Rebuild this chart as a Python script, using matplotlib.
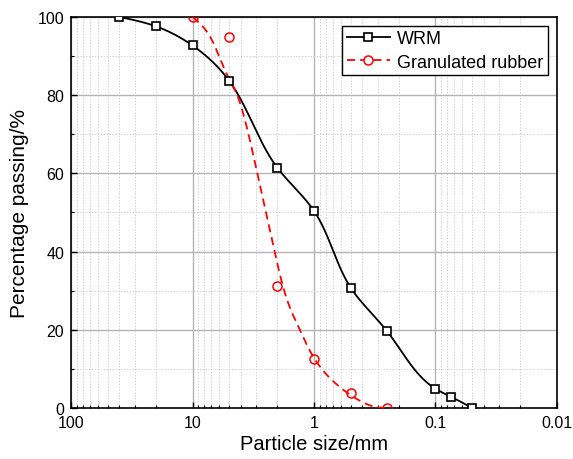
import numpy as np
import matplotlib
matplotlib.use('Agg')
import matplotlib.pyplot as plt
from matplotlib.ticker import LogLocator, FixedLocator, NullFormatter

plt.rcParams['font.family'] = ['Liberation Sans', 'DejaVu Sans']

# sieve data
wrm_size = [40, 20, 10, 5, 2, 1, 0.5, 0.25, 0.1, 0.075, 0.05]
wrm_pass = [100, 97.6, 92.7, 83.7, 61.4, 50.4, 30.8, 19.6, 4.9, 2.9, 0.0]

rubber_size = [10, 5, 2, 1, 0.5, 0.25]
rubber_pass = [100, 94.8, 31.3, 12.4, 3.8, 0.0]

# fitted curve of the granulated rubber
rubber_fit_size = [10, 8.15, 6.32, 5.23, 4.33, 3.82, 3.36, 2.96, 2.61, 2.30,
                   2.03, 1.79, 1.58, 1.30, 1.08, 0.839, 0.611, 0.445, 0.305, 0.26]
rubber_fit_pass = [100, 97.4, 91.4, 85.4, 80.3, 75.2, 68.3, 60.7, 53.2, 45.4,
                   37.7, 30.8, 25.7, 19.8, 14.6, 9.5, 5.3, 2.3, 0.2, 0.0]


def natural(t, v, tt):
    h = np.diff(t)
    k = len(t)
    A = np.zeros((k, k))
    b = np.zeros(k)
    A[0, 0] = A[-1, -1] = 1
    for i in range(1, k - 1):
        A[i, i - 1] = h[i - 1]
        A[i, i] = 2 * (h[i - 1] + h[i])
        A[i, i + 1] = h[i]
        b[i] = 6 * ((v[i + 1] - v[i]) / h[i] - (v[i] - v[i - 1]) / h[i - 1])
    M = np.linalg.solve(A, b)
    j = np.clip(np.searchsorted(t, tt) - 1, 0, k - 2)
    a = t[j + 1] - tt
    c = tt - t[j]
    hj = h[j]
    return (M[j] * a ** 3 / (6 * hj) + M[j + 1] * c ** 3 / (6 * hj)
            + (v[j] / hj - M[j] * hj / 6) * a + (v[j + 1] / hj - M[j + 1] * hj / 6) * c)


def spline(x, y, n=400):
    # parametric spline in screen-like units (log decade ~ 31 % points)
    u = -np.log10(np.asarray(x, float)) * 31.0
    v = np.asarray(y, float)
    t = np.r_[0, np.cumsum(np.hypot(np.diff(u), np.diff(v)))]
    tt = np.linspace(0, t[-1], n)
    return 10 ** (-natural(t, u, tt) / 31.0), natural(t, v, tt)


fig = plt.figure(figsize=(5.73, 4.60), dpi=100)
ax = fig.add_axes([0.124, 0.111, 0.848, 0.850])

sx, sy = spline(wrm_size, wrm_pass)
ax.plot(sx, sy, color='black', lw=1.3, zorder=3)
ax.plot(wrm_size, wrm_pass, ls='none', marker='s', ms=6, mfc='white',
        mec='black', mew=1.2, zorder=4)

fx, fy = spline(rubber_fit_size, rubber_fit_pass)
ax.plot(fx, fy, color='red', lw=1.3, dashes=(4.5, 2.8), zorder=3)
ax.plot(rubber_size, rubber_pass, ls='none', marker='o', ms=6.5, mfc='none',
        mec='red', mew=1.1, zorder=4)

# legend proxies
ax.plot([], [], color='black', lw=1.3, marker='s', ms=6, mfc='white',
        mec='black', mew=1.2, label='WRM')
ax.plot([], [], color='red', lw=1.3, dashes=(4.5, 2.8), marker='o', ms=6.5,
        mfc='white', mec='red', mew=1.1, label='Granulated rubber')

ax.set_xscale('log')
ax.set_xlim(100, 0.01)
ax.set_ylim(0, 100)
ax.set_xticks([100, 10, 1, 0.1, 0.01])
ax.set_xticklabels(['100', '10', '1', '0.1', '0.01'])
ax.xaxis.set_minor_locator(LogLocator(base=10, subs=np.arange(2, 10)))
ax.xaxis.set_minor_formatter(NullFormatter())
ax.set_yticks([0, 20, 40, 60, 80, 100])
ax.yaxis.set_minor_locator(FixedLocator([10, 30, 50, 70, 90]))

ax.grid(True, which='major', color='#b4b4b4', lw=1.0, ls='-')
ax.grid(True, which='minor', color='#d2d2d2', lw=0.7, ls=(0, (1.5, 1.5)))
ax.set_axisbelow(True)

ax.tick_params(which='major', direction='in', length=4.3, width=1.0,
               labelsize=11.5, top=False, right=False, pad=5)
ax.tick_params(which='minor', direction='in', length=2.5, width=0.8,
               top=False, right=False)
for s in ax.spines.values():
    s.set_linewidth(1.2)
    s.set_color('black')

ax.set_xlabel('Particle size/mm', fontsize=14.5, labelpad=3)
ax.set_ylabel('Percentage passing/%', fontsize=15, labelpad=6)

leg = ax.legend(loc='upper right', fontsize=13, frameon=True, fancybox=False,
                edgecolor='black', framealpha=1, handlelength=2.4,
                borderpad=0.25, labelspacing=0.35, handletextpad=0.4,
                borderaxespad=0.5)
leg.get_frame().set_linewidth(1.0)

fig.savefig('out.png', dpi=100)
